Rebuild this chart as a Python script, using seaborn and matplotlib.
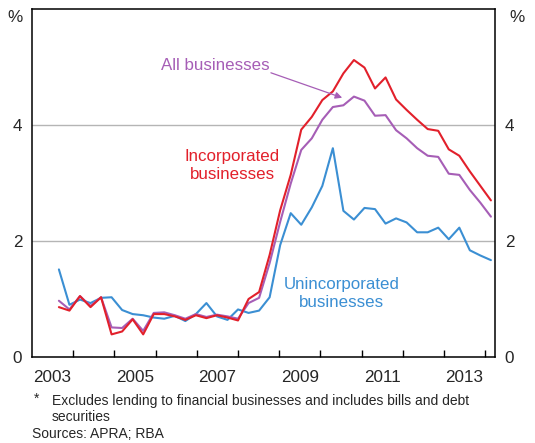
import numpy as np
import pandas as pd
import matplotlib
matplotlib.use("Agg")
import matplotlib.pyplot as plt
import seaborn as sns

# ---- data (quarterly, Sep 2003 - Dec 2013), % ----
quarters = pd.period_range("2003Q3", "2013Q4", freq="Q")
unincorporated = [1.51, 0.90, 0.99, 0.93, 1.02, 1.03, 0.81, 0.74, 0.72, 0.68,
                  0.66, 0.71, 0.62, 0.74, 0.93, 0.70, 0.64, 0.82, 0.76, 0.80,
                  1.03, 1.93, 2.48, 2.28, 2.58, 2.95, 3.60, 2.52, 2.37, 2.57,
                  2.55, 2.30, 2.39, 2.32, 2.15, 2.15, 2.23, 2.03, 2.23, 1.84,
                  1.75, 1.67]
all_businesses = [0.97, 0.82, 1.05, 0.88, 1.03, 0.51, 0.50, 0.66, 0.45, 0.76,
                  0.77, 0.72, 0.66, 0.74, 0.69, 0.73, 0.70, 0.66, 0.93, 1.02,
                  1.62, 2.33, 2.99, 3.57, 3.77, 4.09, 4.31, 4.34, 4.49, 4.42,
                  4.16, 4.17, 3.91, 3.77, 3.60, 3.47, 3.45, 3.16, 3.14, 2.88,
                  2.66, 2.42]
incorporated = [0.86, 0.80, 1.05, 0.86, 1.03, 0.39, 0.44, 0.65, 0.39, 0.74,
                0.74, 0.70, 0.64, 0.72, 0.67, 0.72, 0.68, 0.63, 1.00, 1.12,
                1.76, 2.53, 3.14, 3.92, 4.14, 4.43, 4.58, 4.89, 5.12, 4.99,
                4.63, 4.82, 4.44, 4.26, 4.09, 3.93, 3.90, 3.58, 3.47, 3.20,
                2.95, 2.70]
year_labels = ["2003", "2005", "2007", "2009", "2011", "2013"]
y_ticks = [0, 2, 4]

series_names = ["Unincorporated businesses", "All businesses", "Incorporated businesses"]
colors = {"Unincorporated businesses": "#3b8fd3",
          "All businesses": "#a65eb6",
          "Incorporated businesses": "#e2202b"}

# x position of each quarter on a decimal-year axis
x0, step = 2003.653, 0.2558
xpos = x0 + step * np.arange(len(quarters))

df = pd.DataFrame({
    "x": np.tile(xpos, 3),
    "value": unincorporated + all_businesses + incorporated,
    "series": np.repeat(series_names, len(quarters)),
})

sns.set_style("white")
plt.rcParams["font.family"] = ["Liberation Sans", "DejaVu Sans"]

fig = plt.figure(figsize=(5.35, 4.43), dpi=100)
ax = fig.add_axes([32 / 535, 1 - 357 / 443, (495 - 32) / 535, (357 - 9) / 443])

for y in [2, 4]:
    ax.axhline(y, color="#b5b5b5", lw=1.0, zorder=0)

sns.lineplot(data=df, x="x", y="value", hue="series", hue_order=series_names,
             palette=colors, lw=1.5, legend=False, ax=ax, sort=False)

ax.set_xlim(2003.0, 2014.24)
ax.set_ylim(0, 6)
ax.set_xlabel("")
ax.set_ylabel("")

# x axis: ticks at year boundaries, labels centred in the year
ax.set_xticks(np.arange(2004, 2015))
ax.set_xticklabels([])
ax.set_xticks([int(y) + 0.5 for y in year_labels], minor=True)
ax.set_xticklabels(year_labels, minor=True)
ax.tick_params(axis="x", which="major", direction="in", length=5, width=1, color="black",
               bottom=True, top=False)
ax.tick_params(axis="x", which="minor", length=0, labelsize=12.3, pad=9)

ax.set_yticks(y_ticks)
ax.set_yticklabels([str(t) for t in y_ticks])
ax.tick_params(axis="y", length=0, labelsize=12.3, left=False, right=False,
               labelleft=True, labelright=True, pad=7)

for s in ax.spines.values():
    s.set_color("black")
    s.set_linewidth(1.1)

ax.text(-0.02, 0.975, "%", transform=ax.transAxes, ha="right", va="center", fontsize=12.3)
ax.text(1.03, 0.975, "%", transform=ax.transAxes, ha="left", va="center", fontsize=12.3)

ax.text(2007.44, 5.03, "All businesses", color=colors["All businesses"],
        fontsize=12.2, ha="center", va="center")
ax.annotate("", xy=(2010.53, 4.47), xytext=(2008.80, 4.90),
            arrowprops=dict(arrowstyle="-|>", color=colors["All businesses"],
                            lw=0.9, mutation_scale=10, shrinkA=0, shrinkB=0))
ax.text(2007.86, 3.31, "Incorporated\nbusinesses", color=colors["Incorporated businesses"],
        fontsize=12.2, ha="center", va="center", linespacing=1.25)
ax.text(2010.52, 1.09, "Unincorporated\nbusinesses", color=colors["Unincorporated businesses"],
        fontsize=12.2, ha="center", va="center", linespacing=1.25)

fig.text(34 / 535, 1 - 399 / 443, "*", fontsize=10, ha="left", va="center")
fig.text(52 / 535, 1 - 401 / 443,
         "Excludes lending to financial businesses and includes bills and debt",
         fontsize=10, ha="left", va="center")
fig.text(52 / 535, 1 - 417 / 443, "securities", fontsize=10, ha="left", va="center")
fig.text(32 / 535, 1 - 434 / 443, "Sources: APRA; RBA", fontsize=10, ha="left", va="center")

fig.savefig("out.png", dpi=100)
